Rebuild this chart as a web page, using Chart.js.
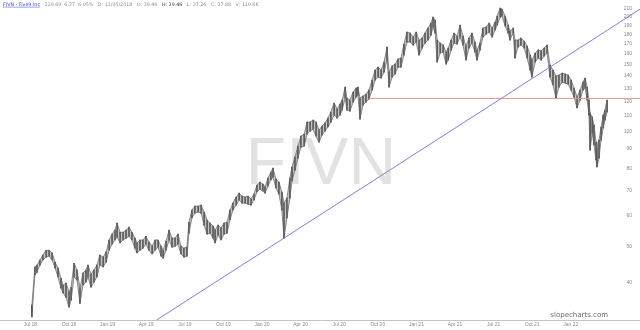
<!DOCTYPE html>
<html>
<head>
<meta charset="utf-8">
<script src="https://cdn.jsdelivr.net/npm/chart.js@4.4.1/dist/chart.umd.min.js"></script>
<style>
    html, body { margin: 0; padding: 0; background: #ffffff; }
    #wrap { position: relative; width: 640px; height: 330px; }
</style>
</head>
<body>
<div id="wrap"><canvas id="fivnChart"></canvas></div>
<script>
// weeks counted from the first week of Jul 2018
const weeks = [
    0.5, 1.5, 2.2, 3.2, 4.2, 5.3, 6.3, 7.3, 8.3, 9.3,
    10.3, 11.0, 12.0, 13.0, 13.7, 14.7, 15.7, 16.7, 17.7, 18.7,
    19.4, 20.4, 21.4, 22.4, 23.4, 24.5, 25.5, 26.5, 27.5, 28.5,
    29.2, 30.2, 31.2, 32.2, 33.2, 34.2, 35.2, 35.9, 36.9, 37.9,
    38.9, 39.9, 41.0, 42.0, 43.0, 44.0, 44.7, 45.7, 46.7, 47.7,
    48.7, 49.7, 50.7, 51.7, 52.7, 53.4, 54.4, 55.4, 56.5, 57.5,
    58.5, 59.5, 60.5, 61.5, 62.2, 63.2, 64.2, 65.2, 66.2, 67.2,
    68.2, 69.3, 70.3, 71.3, 72.3, 73.3, 74.3, 75.3, 76.3, 77.3,
    78.3, 79.0, 80.0, 81.0, 81.7, 82.7, 83.7, 84.7, 85.4, 86.4,
    87.4, 88.1, 89.1, 90.1, 91.1, 92.2, 93.2, 94.2, 95.2, 96.2,
    97.2, 98.2, 99.2, 100.2, 101.2, 102.3, 103.3, 104.3, 105.0, 106.0,
    106.6, 107.6, 108.7, 109.7, 110.3, 111.0, 112.0, 113.0, 114.0, 115.1,
    116.1, 117.1, 118.1, 119.1, 120.1, 120.8, 121.8, 122.8, 123.8, 124.8,
    125.8, 126.8, 127.9, 128.9, 129.9, 130.9, 131.9, 132.9, 133.9, 134.9,
    135.6, 136.3, 137.0, 138.0, 139.0, 140.0, 140.7, 141.7, 142.7, 143.7,
    144.7, 145.7, 146.7, 147.7, 148.7, 149.7, 150.4, 151.4, 152.4, 153.5,
    154.5, 155.5, 156.5, 157.2, 158.2, 158.8, 159.9, 160.9, 161.5, 162.6,
    163.2, 164.2, 165.2, 166.3, 167.3, 168.3, 168.9, 170.0, 171.0, 172.0,
    173.0, 174.0, 175.0, 176.0, 177.0, 178.0, 179.1, 180.1, 181.1, 182.1,
    183.1, 184.1, 185.1, 186.1, 186.8, 187.5, 188.1, 188.5, 189.2, 189.8,
    190.5, 190.8, 191.5, 192.2, 192.9, 193.5, 194.2
];

const highs = [
    35.0, 44.1, 44.6, 46.0, 47.4, 48.8, 48.8, 48.0, 45.4, 43.8,
    41.2, 39.5, 40.0, 37.9, 39.0, 45.1, 43.3, 38.8, 42.5, 43.3,
    44.6, 42.2, 43.3, 44.6, 47.4, 46.8, 48.3, 51.9, 53.8, 55.1,
    57.5, 54.4, 54.4, 55.1, 56.1, 54.4, 52.5, 51.0, 51.9, 51.9,
    53.1, 51.3, 50.0, 51.9, 51.9, 50.0, 48.8, 51.6, 55.1, 52.5,
    52.5, 53.8, 50.0, 49.4, 49.7, 57.8, 62.2, 63.7, 63.7, 64.1,
    61.5, 58.6, 57.5, 56.5, 55.1, 56.8, 55.8, 57.5, 57.8, 62.2,
    64.9, 67.3, 68.9, 67.7, 67.3, 67.7, 66.5, 68.5, 72.4, 73.7,
    72.8, 71.5, 75.5, 78.3, 80.2, 75.0, 73.7, 69.4, 64.9, 66.9,
    75.5, 80.7, 85.7, 91.6, 97.3, 98.5, 105.9, 105.9, 107.2, 105.9,
    100.9, 103.4, 105.3, 108.5, 112.5, 118.8, 114.6, 118.1, 121.0, 130.9,
    122.5, 121.0, 127.0, 130.1, 130.9, 122.5, 123.9, 125.4, 128.5, 136.5,
    145.0, 147.7, 145.0, 152.2, 166.7, 143.3, 148.6, 150.4, 155.0, 156.0,
    169.7, 182.5, 181.4, 177.1, 182.5, 173.9, 176.0, 181.4, 187.0, 192.7,
    199.8, 196.3, 173.9, 170.8, 168.7, 161.7, 165.7, 173.9, 181.4, 178.2,
    190.4, 178.2, 167.7, 176.0, 181.4, 171.8, 163.7, 170.8, 187.0, 188.1,
    192.7, 187.0, 193.9, 201.0, 211.0, 209.8, 201.0, 190.4, 183.6, 187.0,
    173.9, 173.9, 176.0, 172.8, 167.7, 158.8, 154.1, 160.8, 163.7, 162.7,
    165.7, 168.7, 149.5, 145.0, 139.9, 140.7, 142.4, 141.6, 140.7, 136.5,
    130.1, 123.2, 128.5, 134.9, 138.2, 130.9, 121.0, 111.8, 109.2, 104.0,
    93.8, 87.8, 95.0, 102.8, 110.5, 113.9, 121.0
];

const lows = [
    32.6, 42.0, 42.7, 44.6, 46.0, 46.8, 47.1, 46.0, 43.8, 41.5,
    38.8, 37.7, 36.7, 34.6, 36.1, 41.5, 40.7, 35.4, 39.5, 40.2,
    41.5, 39.0, 40.2, 41.5, 44.6, 44.1, 45.4, 48.8, 50.6, 51.9,
    52.8, 51.0, 51.9, 52.5, 53.1, 51.9, 49.4, 48.0, 48.8, 49.4,
    50.6, 48.8, 47.7, 48.8, 49.7, 47.1, 46.5, 48.8, 51.9, 49.7,
    50.0, 50.6, 47.7, 46.8, 47.1, 54.1, 59.3, 61.1, 61.5, 61.1,
    56.8, 53.8, 54.1, 52.5, 51.0, 53.5, 51.9, 53.8, 54.1, 58.6,
    62.2, 64.1, 66.1, 64.9, 64.9, 64.5, 64.1, 66.1, 69.4, 70.6,
    69.8, 68.9, 71.9, 74.6, 75.9, 71.1, 68.5, 62.2, 52.5, 59.3,
    66.9, 74.1, 79.2, 85.2, 91.0, 91.6, 98.5, 100.3, 101.5, 97.3,
    93.8, 97.9, 100.3, 102.8, 105.9, 110.5, 108.5, 110.5, 113.9, 122.5,
    113.9, 113.2, 119.5, 123.2, 124.7, 107.8, 117.4, 119.5, 121.7, 128.5,
    136.5, 139.0, 138.2, 143.3, 154.1, 130.9, 139.0, 141.6, 147.7, 147.7,
    158.8, 171.8, 171.8, 168.7, 171.8, 158.8, 165.7, 170.8, 173.9, 179.2,
    188.1, 181.4, 152.2, 160.8, 161.7, 150.4, 154.1, 163.7, 170.8, 169.7,
    177.1, 168.7, 154.1, 165.7, 170.8, 161.7, 154.1, 163.7, 177.1, 180.3,
    182.5, 177.1, 184.7, 190.4, 199.8, 201.0, 189.3, 181.4, 173.9, 181.4,
    156.0, 166.7, 168.7, 165.7, 156.0, 145.0, 139.0, 152.2, 156.0, 154.1,
    157.8, 160.8, 139.0, 132.5, 122.5, 130.9, 134.9, 134.1, 133.3, 128.5,
    123.2, 115.3, 121.0, 128.5, 130.1, 121.0, 110.5, 89.4, 99.1, 92.2,
    84.2, 80.7, 85.2, 95.0, 102.1, 107.2, 112.5
];

const quarterLabels = ['Jul 18', 'Oct 18', 'Jan 19', 'Apr 19', 'Jul 19', 'Oct 19', 'Jan 20', 'Apr 20',
    'Jul 20', 'Oct 20', 'Jan 21', 'Apr 21', 'Jul 21', 'Oct 21', 'Jan 22'];
const quarterWeeks = [0, 13, 26, 39, 52, 65, 78, 91, 104, 117, 130, 143, 156, 169, 182];

const priceTicks = [40, 50, 60, 70, 80, 90, 100, 110, 120, 130, 140, 150, 160, 170, 180, 190, 200, 210];

// trend line (blue) and horizontal level (red)
const trendWeeks = [42.5, 205.3];
const trendPrices = [32.0, 209.6];
const levelWeeks = [114.0, 205.3];
const levelPrice = 122.2;

const headerParts = [
    { text: 'FIVN - Five9 Inc', color: '#3344cc', link: true },
    { text: '119.69  6.77  6.05%', color: '#8a8a8a' },
    { text: 'D: 11/05/2018', color: '#8a8a8a' },
    { text: 'O: 39.46', color: '#8a8a8a' },
    { text: 'H: 39.46', color: '#333333' },
    { text: 'L: 37.26', color: '#8a8a8a' },
    { text: 'C: 37.88', color: '#8a8a8a' },
    { text: 'V: 110.6K', color: '#8a8a8a' }
];

document.addEventListener("DOMContentLoaded", function() {
    const ctx = document.getElementById('fivnChart').getContext('2d');

    const watermark = {
        id: 'watermark',
        beforeDatasetsDraw(chart) {
            const c = chart.ctx;
            c.save();
            c.font = '66px "Liberation Sans", Arial, sans-serif';
            c.fillStyle = '#e2e2e2';
            c.textAlign = 'center';
            c.textBaseline = 'alphabetic';
            c.fillText('FIVN', 321, 184);
            c.restore();
        }
    };

    const captions = {
        id: 'captions',
        afterDraw(chart) {
            const c = chart.ctx;
            c.save();
            c.font = '4.8px "DejaVu Sans", sans-serif';
            c.textBaseline = 'alphabetic';
            let x = 3;
            headerParts.forEach(part => {
                c.fillStyle = part.color;
                c.fillText(part.text, x, 6);
                const w = c.measureText(part.text).width;
                if (part.link) {
                    c.fillRect(x, 6.8, w, 0.5);
                }
                x += w + 4.5;
            });
            c.font = '7px "DejaVu Sans", sans-serif';
            c.fillStyle = '#6a6a6a';
            c.textAlign = 'right';
            c.fillText('slopecharts.com', 608, 317);
            c.restore();
        }
    };

    new Chart(ctx, {
        type: 'bar',
        data: {
            datasets: [{
                type: 'line',
                label: 'Trend',
                data: trendWeeks.map((w, i) => ({ x: w, y: trendPrices[i] })),
                borderColor: '#8080dd',
                borderWidth: 1,
                pointRadius: 0,
                order: 0
            }, {
                type: 'line',
                label: 'Level',
                data: levelWeeks.map(w => ({ x: w, y: levelPrice })),
                borderColor: '#f09090',
                borderWidth: 1,
                pointRadius: 0,
                order: 1
            }, {
                type: 'line',
                label: 'High',
                data: weeks.map((w, i) => ({ x: w, y: highs[i] })),
                borderColor: '#606060',
                borderWidth: 0.7,
                pointRadius: 0,
                fill: false,
                order: 2
            }, {
                type: 'line',
                label: 'Low',
                data: weeks.map((w, i) => ({ x: w, y: lows[i] })),
                borderColor: '#606060',
                borderWidth: 0.7,
                pointRadius: 0,
                fill: '-1',
                backgroundColor: 'rgba(110, 110, 110, 0.4)',
                order: 3
            }, {
                type: 'bar',
                label: 'FIVN',
                data: weeks.map((w, i) => ({ x: w, y: [lows[i], highs[i]] })),
                backgroundColor: '#4c4c4c',
                barThickness: 1,
                order: 4
            }]
        },
        options: {
            responsive: true,
            maintainAspectRatio: false,
            animation: false,
            layout: { padding: 0 },
            plugins: {
                legend: { display: false },
                tooltip: { enabled: false }
            },
            scales: {
                x: {
                    type: 'linear',
                    min: -10.24,
                    max: 205.3,
                    offset: false,
                    grid: { display: false, drawTicks: false },
                    border: { color: '#c4c4c4' },
                    ticks: {
                        color: '#8a8a8a',
                        font: { size: 5 },
                        padding: 2,
                        maxRotation: 0,
                        autoSkip: false,
                        callback: value => quarterLabels[quarterWeeks.indexOf(value)]
                    },
                    afterBuildTicks: axis => {
                        axis.ticks = quarterWeeks.map(v => ({ value: v }));
                    },
                    afterFit: axis => { axis.height = 10; }
                },
                y: {
                    type: 'logarithmic',
                    position: 'right',
                    min: 32,
                    max: 221.6,
                    grid: { display: false, drawTicks: false },
                    border: { display: false },
                    ticks: {
                        mirror: true,
                        crossAlign: 'near',
                        color: '#8a8a8a',
                        font: { size: 5 },
                        padding: -8,
                        callback: value => String(value)
                    },
                    afterBuildTicks: axis => {
                        axis.ticks = priceTicks.map(v => ({ value: v }));
                    },
                    afterFit: axis => { axis.width = 0; }
                }
            }
        },
        plugins: [watermark, captions]
    });
});
</script>
</body>
</html>
